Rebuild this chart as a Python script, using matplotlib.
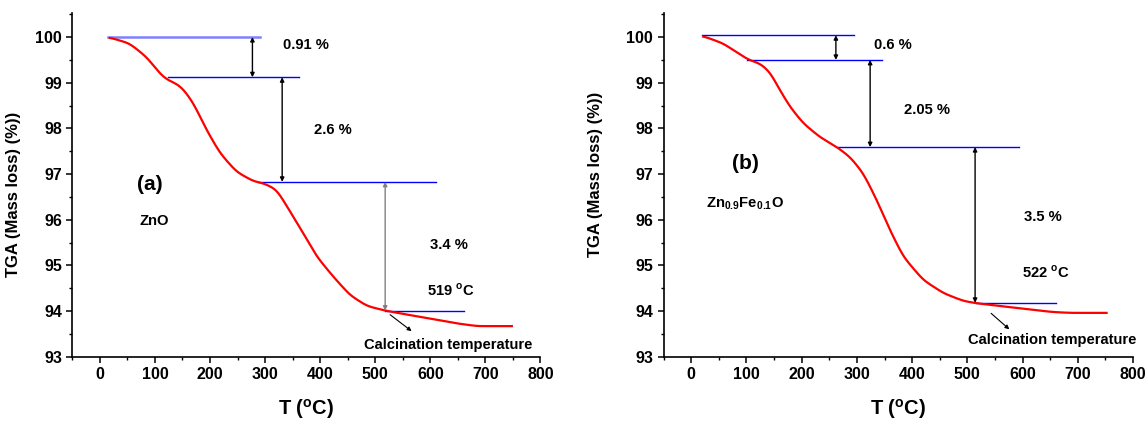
import matplotlib
matplotlib.use("Agg")
import matplotlib.pyplot as plt
import numpy as np

plt.rcParams['font.family'] = ['Liberation Sans', 'DejaVu Sans']
plt.rcParams['font.weight'] = 'bold'
plt.rcParams['mathtext.fontset'] = 'custom'
plt.rcParams['mathtext.rm'] = 'Liberation Sans:bold'
plt.rcParams['mathtext.bf'] = 'Liberation Sans:bold'

# Panel (a): ZnO
temp_a = [18, 54, 85, 109, 121, 139, 151, 170, 194, 218, 248, 279, 297, 321, 351,
          364, 394, 424, 454, 485, 518, 545, 606, 648, 685, 748]
mass_a = [99.99, 99.86, 99.56, 99.20, 99.07, 98.98, 98.87, 98.55, 97.96, 97.46, 97.05,
          96.84, 96.80, 96.66, 96.07, 95.81, 95.19, 94.75, 94.35, 94.11, 94.01, 93.95,
          93.82, 93.73, 93.67, 93.67]
# Panel (b): Zn0.9Fe0.1O
temp_b = [22, 58, 82, 104, 125, 143, 161, 179, 203, 233, 264, 288, 312, 336, 360, 384,
          420, 457, 493, 517, 595, 653, 686, 752]
mass_b = [100.02, 99.86, 99.67, 99.50, 99.42, 99.23, 98.83, 98.47, 98.11, 97.81, 97.59,
          97.37, 97.01, 96.43, 95.77, 95.19, 94.68, 94.39, 94.22, 94.17, 94.06, 93.98,
          93.96, 93.96]

# step levels (horizontal guide lines): (y, x_start, x_end)
levels_a = [(100.0, 15, 290), (99.12, 123, 362), (96.83, 288, 610), (94.01, 518, 661)]
levels_b = [(100.04, 19, 294), (99.50, 101, 345), (97.59, 266, 593), (94.18, 516, 660)]
arrow_x_a = [277, 331, 518]
arrow_x_b = [262, 324, 514]
steps_a = ["0.91 %", "2.6 %", "3.4 %"]
steps_b = ["0.6 %", "2.05 %", "3.5 %"]
calc_a = "519 $^{\\mathregular{o}}$C"
calc_b = "522 $^{\\mathregular{o}}$C"

xticks = [0, 100, 200, 300, 400, 500, 600, 700, 800]
yticks = [93, 94, 95, 96, 97, 98, 99, 100]

fig = plt.figure(figsize=(11.48, 4.21), dpi=100)
ax1 = fig.add_axes([0.0630, 0.1527, 0.4078, 0.8157])
ax2 = fig.add_axes([0.5780, 0.1527, 0.4090, 0.8157])


def smooth_curve(x, y, sigma=7.0):
    x = np.asarray(x, float); y = np.asarray(y, float)
    xs = np.arange(x[0], x[-1] + 0.5, 0.5)
    ys = np.interp(xs, x, y)
    half = int(4 * sigma / 0.5)
    k = np.exp(-0.5 * (np.arange(-half, half + 1) * 0.5 / sigma) ** 2)
    k /= k.sum()
    pad = np.concatenate([np.full(half, ys[0]), ys, np.full(half, ys[-1])])
    return xs, np.convolve(pad, k, mode='valid')


def style(ax, ylab_pos):
    ax.set_xlim(-50, 800)
    ax.set_ylim(93, 100.52)
    ax.spines['top'].set_visible(False)
    ax.spines['right'].set_visible(False)
    ax.spines['left'].set_linewidth(1.2)
    ax.spines['bottom'].set_linewidth(1.2)
    ax.set_xticks(xticks)
    ax.set_yticks(yticks)
    ax.set_xticks(np.arange(-50, 801, 50), minor=True)
    ax.set_yticks(np.arange(93, 100.6, 0.5), minor=True)
    ax.tick_params(which='major', direction='out', length=4.5, width=1.1, labelsize=11.5, pad=3)
    ax.tick_params(which='minor', direction='out', length=2.5, width=1.0)
    for lab in ax.get_xticklabels() + ax.get_yticklabels():
        lab.set_fontweight('bold')
    ax.set_xlabel("T ($^{\\mathregular{o}}$C)", fontsize=14.5, fontweight='bold')
    ax.xaxis.set_label_coords(0.5, -0.118)
    ax.set_ylabel("TGA (Mass loss) (%))", fontsize=12, fontweight='bold')
    ax.yaxis.set_label_coords(*ylab_pos)


def draw(ax, T, M, levels, arrx, steps, calc, tag, name, pos):
    xs, ys = smooth_curve(T, M)
    ax.plot(xs, ys, color='red', lw=1.6, zorder=3)
    for i, (y, x0, x1) in enumerate(levels):
        light = (i == 0 and tag == '(a)')
        ax.plot([x0, x1], [y, y], color='#8080ff' if light else 'blue',
                lw=1.8 if light else 1.0, zorder=2)
    for i, xa in enumerate(arrx):
        col = '#808080' if (i == 2 and tag == '(a)') else 'black'
        ax.annotate("", xy=(xa, levels[i + 1][0]), xytext=(xa, levels[i][0]),
                    arrowprops=dict(arrowstyle='<|-|>', color=col, lw=1.0,
                                    mutation_scale=6, shrinkA=0, shrinkB=0))
    ax.annotate("", xy=pos['carrow'][1], xytext=pos['carrow'][0],
                arrowprops=dict(arrowstyle='-|>', color='black', lw=0.8,
                                mutation_scale=6, shrinkA=0, shrinkB=0))
    kw = dict(fontsize=10.6, fontweight='bold', ha='center', va='center')
    for (tx, ty), s in zip(pos['steps'], steps):
        ax.text(tx, ty, s, **kw)
    ax.text(*pos['calc'], calc, **kw)
    ax.text(*pos['calctext'], "Calcination temperature", **kw)
    ax.text(*pos['tag'], tag, fontsize=15, fontweight='bold', ha='center', va='center')
    ax.text(*pos['name'], name, **kw)


style(ax1, (-0.110, 0.472))
style(ax2, (-0.129, 0.530))

draw(ax1, temp_a, mass_a, levels_a, arrow_x_a, steps_a, calc_a, "(a)", "ZnO",
     dict(steps=[(375, 99.82), (423, 97.96), (633, 95.44)], calc=(638, 94.46),
          calctext=(632, 93.26), tag=(91, 96.78), name=(98, 95.98),
          carrow=[(527, 93.92), (566, 93.56)]))
draw(ax2, temp_b, mass_b, levels_b, arrow_x_b, steps_b, calc_b, "(b)",
     "Zn$_{\\mathregular{0.9}}$Fe$_{\\mathregular{0.1}}$O",
     dict(steps=[(366, 99.82), (427, 98.40), (636, 96.06)], calc=(642, 94.84),
          calctext=(653, 93.36), tag=(98, 97.23), name=(98, 96.36),
          carrow=[(543, 93.95), (576, 93.60)]))

fig.savefig("out.png", dpi=100)
